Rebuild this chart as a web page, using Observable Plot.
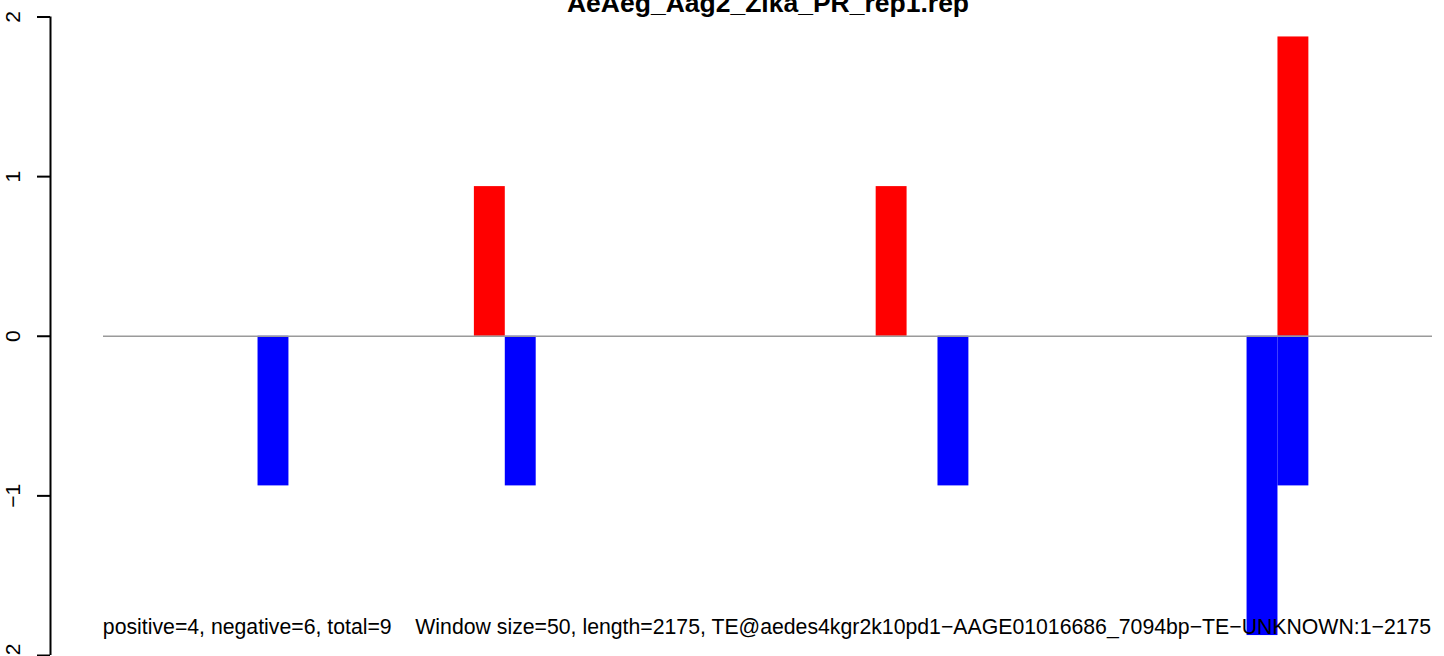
<!DOCTYPE html>
<html>
<head>
<meta charset="utf-8">
<script src="https://cdn.jsdelivr.net/npm/d3@7"></script>
<script src="https://cdn.jsdelivr.net/npm/@observablehq/plot@0.6"></script>
<style>
  html, body { margin: 0; padding: 0; background: #fff; }
  #chart svg { display: block; }
</style>
</head>
<body>
<div id="chart"></div>
<script>
// ---- data ----
const title = "AeAeg_Aag2_Zika_PR_rep1.rep";
const footer = "positive=4, negative=6, total=9    Window size=50, length=2175, TE@aedes4kgr2k10pd1\u2212AAGE01016686_7094bp\u2212TE\u2212UNKNOWN:1\u22122175";
const windowSize = 50;
const xDomain = [0, 2150];
const posStarts = [600, 1250, 1900];
const posValues = [0.9375, 0.9375, 1.875];
const negStarts = [250, 650, 1350, 1850, 1900];
const negValues = [-0.9375, -0.9375, -0.9375, -1.875, -0.9375];
const yTicks = [-2, -1, 0, 1, 2];
const yTickLabels = ["\u22122", "\u22121", "0", "1", "2"];

const posData = posStarts.map((s, i) => ({x1: s, x2: s + windowSize, y: posValues[i]}));
const negData = negStarts.map((s, i) => ({x1: s, x2: s + windowSize, y: negValues[i]}));
const tickData = yTicks.map((v, i) => ({y: v, label: yTickLabels[i]}));

const font = "'Liberation Sans', Arial, Helvetica, sans-serif";

const chart = Plot.plot({
  width: 1444,
  height: 656,
  marginLeft: 103,
  marginRight: 12,
  marginTop: 16.5,
  marginBottom: 1,
  style: {fontFamily: font, background: "#fff", overflow: "visible"},
  x: {domain: xDomain, axis: null},
  y: {domain: [-2, 2], axis: null},
  marks: [
    Plot.rectY(posData, {x1: "x1", x2: "x2", y1: 0, y2: "y", fill: "#ff0000"}),
    Plot.rectY(negData, {x1: "x1", x2: "x2", y1: 0, y2: "y", fill: "#0000ff"}),
    Plot.ruleY([0], {x1: xDomain[0], x2: xDomain[1], stroke: "#9a9a9a", strokeWidth: 1.5}),
    Plot.axisY({ticks: yTicks, tickSize: 13, tickFormat: () => "", label: null, dx: -53, stroke: "#000", strokeWidth: 2, strokeOpacity: 1}),
    Plot.ruleX([xDomain[0]], {y1: -2, y2: 2, dx: -53, stroke: "#000", strokeWidth: 2}),
    Plot.text(tickData, {y: "y", text: "label", frameAnchor: "left", dx: -90.5, rotate: -90, textAnchor: "middle", lineAnchor: "middle", fontSize: 21, fill: "#000"}),
    Plot.text([title], {frameAnchor: "top", dy: -5.5, lineAnchor: "bottom", text: d => d, fontSize: 26.5, fontWeight: "bold", fill: "#000"}),
    Plot.text([footer], {frameAnchor: "bottom", dy: -22, dx: -1, lineAnchor: "bottom", text: d => d, fontSize: 21.25, fill: "#000"})
  ]
});
document.getElementById("chart").appendChild(chart);
</script>
</body>
</html>
